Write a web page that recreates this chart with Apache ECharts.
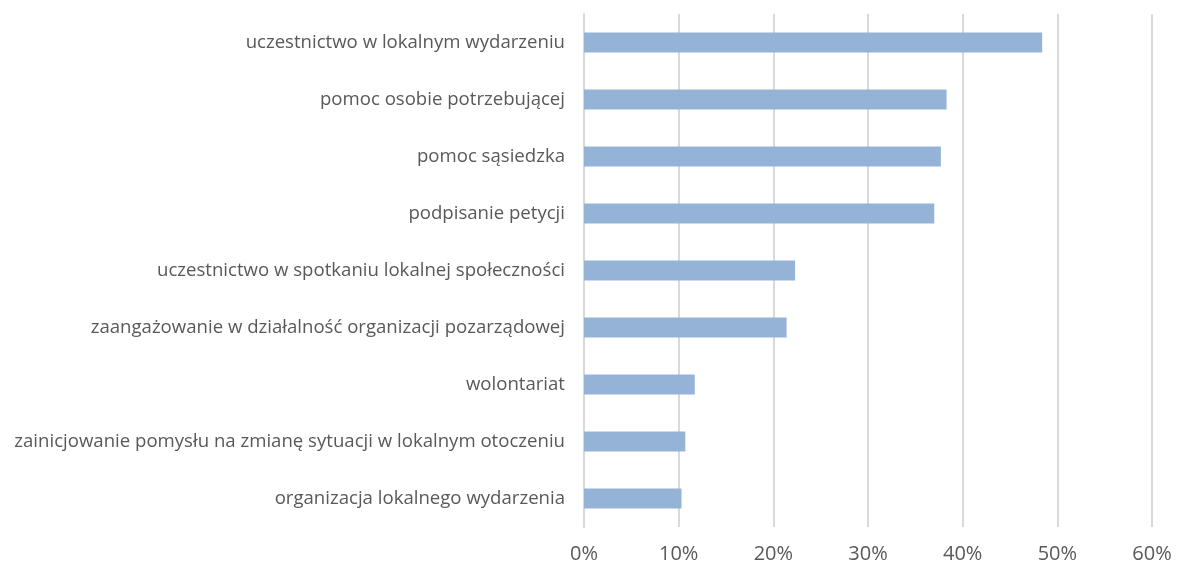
<!DOCTYPE html>
<html><head><meta charset="utf-8">
<script src="https://cdn.jsdelivr.net/npm/echarts@6/dist/echarts.min.js"></script>
<style>html,body{margin:0;padding:0;background:#fff}#c{width:1177px;height:567px}</style>
</head><body><div id="c"></div>
<script>
const categories = [
  "uczestnictwo w lokalnym wydarzeniu",
  "pomoc osobie potrzebującej",
  "pomoc sąsiedzka",
  "podpisanie petycji",
  "uczestnictwo w spotkaniu lokalnej społeczności",
  "zaangażowanie w działalność organizacji pozarządowej",
  "wolontariat",
  "zainicjowanie pomysłu na zmianę sytuacji w lokalnym otoczeniu",
  "organizacja lokalnego wydarzenia"
];
const values = [48.4, 38.3, 37.7, 37.0, 22.3, 21.4, 11.7, 10.7, 10.3];
const xTicks = [0, 10, 20, 30, 40, 50, 60];

const chart = echarts.init(document.getElementById('c'));
chart.setOption({
  animation: false,
  grid: { left: 584, right: 25, top: 14, bottom: 40, containLabel: false },
  xAxis: {
    type: 'value', min: xTicks[0], max: xTicks[xTicks.length - 1], interval: 10,
    axisLine: { show: false }, axisTick: { show: false },
    splitLine: { show: true, lineStyle: { color: '#d9d9d9', width: 2 } },
    axisLabel: { formatter: v => v + '%', color: '#595959', fontFamily: 'Open Sans', fontSize: 20, margin: 17 }
  },
  yAxis: {
    type: 'category', data: categories, inverse: true,
    axisLine: { show: true, lineStyle: { color: '#d9d9d9', width: 2 } },
    axisTick: { show: false },
    axisLabel: { color: '#595959', fontFamily: 'Open Sans', fontSize: 18.6, margin: 19 }
  },
  series: [{
    type: 'bar', data: values, barWidth: 20,
    itemStyle: { color: '#95b3d7' }
  }]
});
</script></body></html>
